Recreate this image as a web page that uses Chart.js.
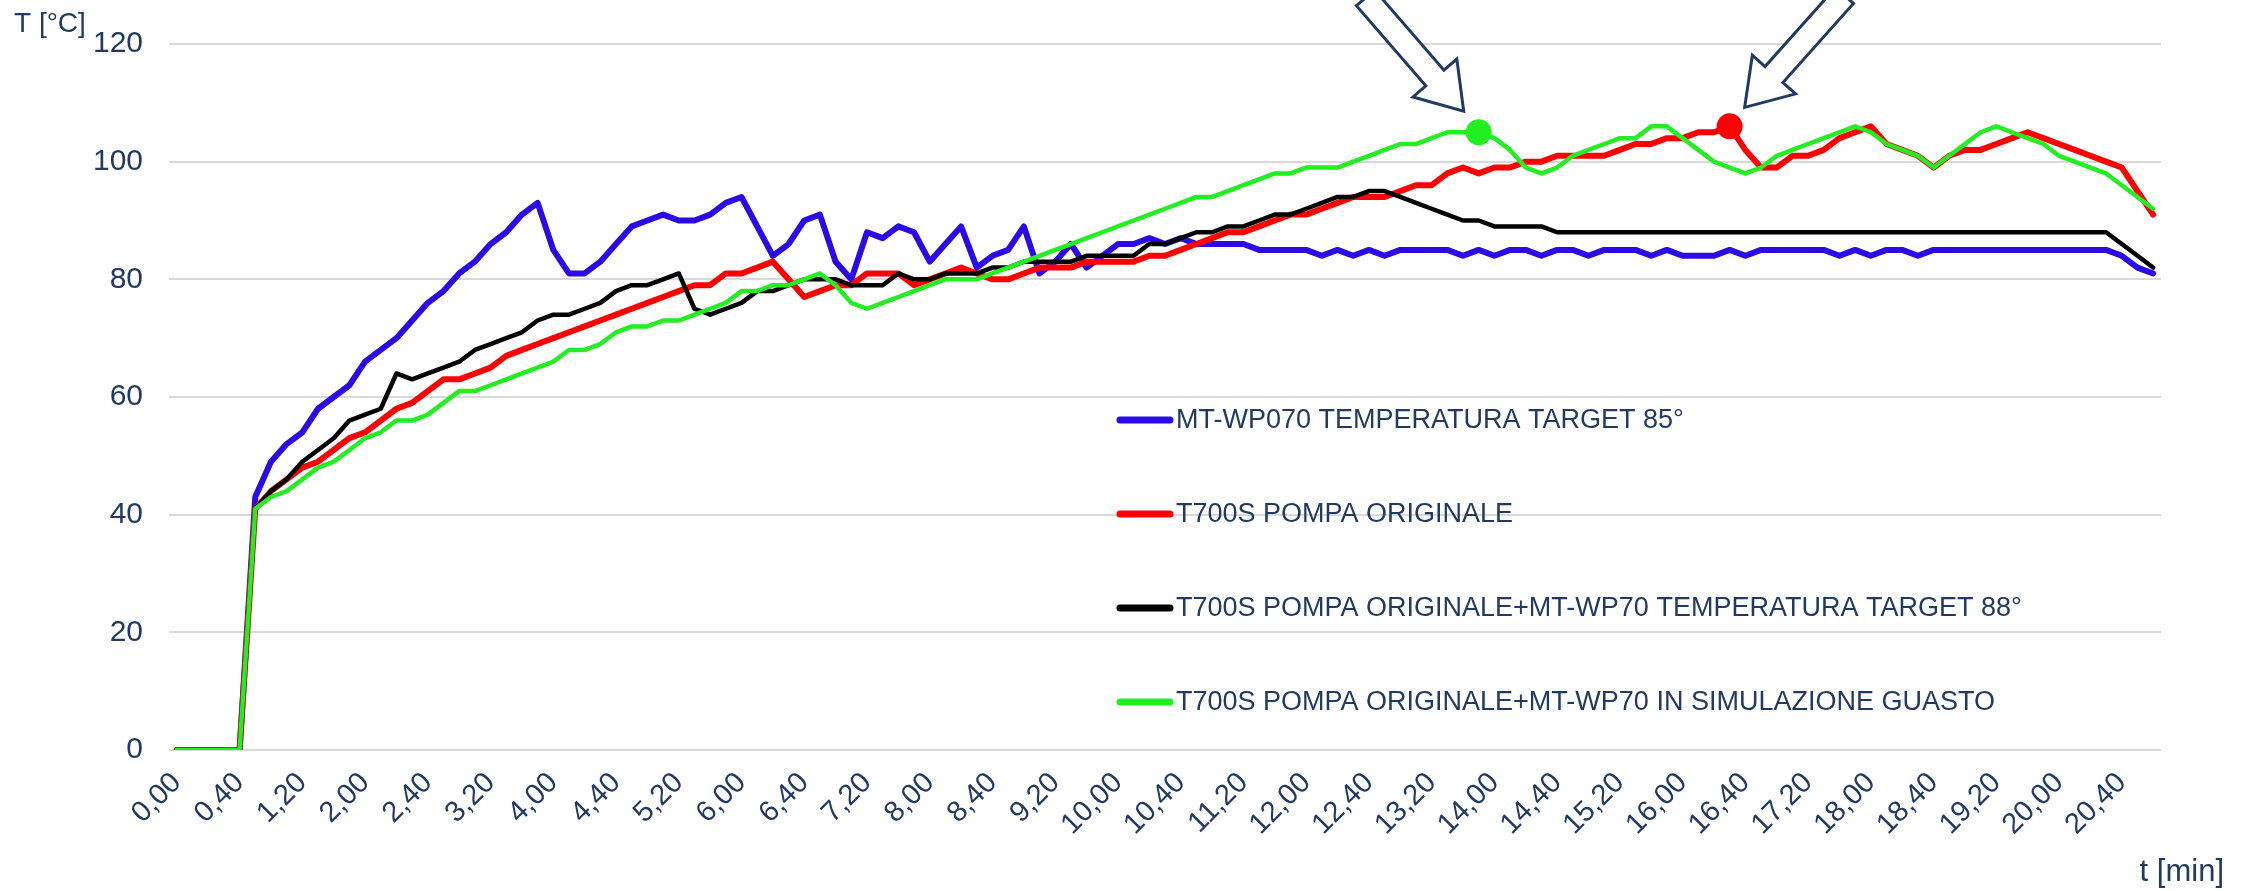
<!DOCTYPE html>
<html>
<head>
<meta charset="utf-8">
<title>Temperature comparison</title>
<script src="https://cdn.jsdelivr.net/npm/chart.js@4.4.1/dist/chart.umd.min.js"></script>
<style>
  html, body { margin: 0; padding: 0; background: #ffffff; }
  #wrap { width: 2247px; height: 891px; }
</style>
</head>
<body>
<div id="wrap"><canvas id="tempChart" width="2247" height="891"></canvas></div>
<script>
// time axis, one sample every 10 s (min,sec)
const timeLabels = [
  '0,00', '0,10', '0,20', '0,30', '0,40', '0,50',
  '1,00', '1,10', '1,20', '1,30', '1,40', '1,50',
  '2,00', '2,10', '2,20', '2,30', '2,40', '2,50',
  '3,00', '3,10', '3,20', '3,30', '3,40', '3,50',
  '4,00', '4,10', '4,20', '4,30', '4,40', '4,50',
  '5,00', '5,10', '5,20', '5,30', '5,40', '5,50',
  '6,00', '6,10', '6,20', '6,30', '6,40', '6,50',
  '7,00', '7,10', '7,20', '7,30', '7,40', '7,50',
  '8,00', '8,10', '8,20', '8,30', '8,40', '8,50',
  '9,00', '9,10', '9,20', '9,30', '9,40', '9,50',
  '10,00', '10,10', '10,20', '10,30', '10,40', '10,50',
  '11,00', '11,10', '11,20', '11,30', '11,40', '11,50',
  '12,00', '12,10', '12,20', '12,30', '12,40', '12,50',
  '13,00', '13,10', '13,20', '13,30', '13,40', '13,50',
  '14,00', '14,10', '14,20', '14,30', '14,40', '14,50',
  '15,00', '15,10', '15,20', '15,30', '15,40', '15,50',
  '16,00', '16,10', '16,20', '16,30', '16,40', '16,50',
  '17,00', '17,10', '17,20', '17,30', '17,40', '17,50',
  '18,00', '18,10', '18,20', '18,30', '18,40', '18,50',
  '19,00', '19,10', '19,20', '19,30', '19,40', '19,50',
  '20,00', '20,10', '20,20', '20,30', '20,40', '20,50',
  '21,00'
];

const seriesNames = [
  'MT-WP070 TEMPERATURA TARGET 85°',
  'T700S POMPA ORIGINALE',
  'T700S POMPA ORIGINALE+MT-WP70 TEMPERATURA TARGET 88°',
  'T700S POMPA ORIGINALE+MT-WP70 IN SIMULAZIONE GUASTO'
];

// T [°C]
const wp070Target85 = [
  0, 0, 0, 0, 0, 43, 49, 52, 54, 58,
  60, 62, 66, 68, 70, 73, 76, 78, 81, 83,
  86, 88, 91, 93, 85, 81, 81, 83, 86, 89,
  90, 91, 90, 90, 91, 93, 94, 89, 84, 86,
  90, 91, 83, 80, 88, 87, 89, 88, 83, 86,
  89, 82, 84, 85, 89, 81, 83, 86, 82, 84,
  86, 86, 87, 86, 87, 86, 86, 86, 86, 85,
  85, 85, 85, 84, 85, 84, 85, 84, 85, 85,
  85, 85, 84, 85, 84, 85, 85, 84, 85, 85,
  84, 85, 85, 85, 84, 85, 84, 84, 84, 85,
  84, 85, 85, 85, 85, 85, 84, 85, 84, 85,
  85, 84, 85, 85, 85, 85, 85, 85, 85, 85,
  85, 85, 85, 85, 84, 82, 81
];

const t700sOriginal = [
  0, 0, 0, 0, 0, 41, 44, 46, 48, 49,
  51, 53, 54, 56, 58, 59, 61, 63, 63, 64,
  65, 67, 68, 69, 70, 71, 72, 73, 74, 75,
  76, 77, 78, 79, 79, 81, 81, 82, 83, 80,
  77, 78, 79, 79, 81, 81, 81, 79, 80, 81,
  82, 81, 80, 80, 81, 82, 82, 82, 83, 83,
  83, 83, 84, 84, 85, 86, 87, 88, 88, 89,
  90, 91, 91, 92, 93, 94, 94, 94, 95, 96,
  96, 98, 99, 98, 99, 99, 100, 100, 101, 101,
  101, 101, 102, 103, 103, 104, 104, 105, 105, 106,
  102, 99, 99, 101, 101, 102, 104, 105, 106, 103,
  102, 101, 99, 101, 102, 102, 103, 104, 105, 104,
  103, 102, 101, 100, 99, 95, 91
];

const t700sWp70Target88 = [
  0, 0, 0, 0, 0, 41, 44, 46, 49, 51,
  53, 56, 57, 58, 64, 63, 64, 65, 66, 68,
  69, 70, 71, 73, 74, 74, 75, 76, 78, 79,
  79, 80, 81, 75, 74, 75, 76, 78, 78, 79,
  80, 80, 80, 79, 79, 79, 81, 80, 80, 81,
  81, 81, 82, 82, 83, 83, 83, 83, 84, 84,
  84, 84, 86, 86, 87, 88, 88, 89, 89, 90,
  91, 91, 92, 93, 94, 94, 95, 95, 94, 93,
  92, 91, 90, 90, 89, 89, 89, 89, 88, 88,
  88, 88, 88, 88, 88, 88, 88, 88, 88, 88,
  88, 88, 88, 88, 88, 88, 88, 88, 88, 88,
  88, 88, 88, 88, 88, 88, 88, 88, 88, 88,
  88, 88, 88, 88, 86, 84, 82
];

const t700sWp70Guasto = [
  0, 0, 0, 0, 0, 41, 43, 44, 46, 48,
  49, 51, 53, 54, 56, 56, 57, 59, 61, 61,
  62, 63, 64, 65, 66, 68, 68, 69, 71, 72,
  72, 73, 73, 74, 75, 76, 78, 78, 79, 79,
  80, 81, 79, 76, 75, 76, 77, 78, 79, 80,
  80, 80, 81, 82, 83, 84, 85, 86, 87, 88,
  89, 90, 91, 92, 93, 94, 94, 95, 96, 97,
  98, 98, 99, 99, 99, 100, 101, 102, 103, 103,
  104, 105, 105, 105, 104, 102, 99, 98, 99, 101,
  102, 103, 104, 104, 106, 106, 104, 102, 100, 99,
  98, 99, 101, 102, 103, 104, 105, 106, 105, 103,
  102, 101, 99, 101, 103, 105, 106, 105, 104, 103,
  101, 100, 99, 98, 96, 94, 92
];

// samples highlighted with a dot + arrow
const guastoMarkIndex = 83;
const originaleMarkIndex = 99;

const TEXT_COLOR = '#203a62';
const FONT = '"Liberation Sans", Arial, sans-serif';
const COLORS = ['#2a0ae6', '#ff0000', '#000000', '#22ee22'];
const WIDTHS = [6, 6, 4.5, 4.5];

function markRadius(idx) {
  return ctx => (ctx.dataIndex === idx ? 13 : 0);
}

function makeDataset(i, data, markIdx) {
  return {
    label: seriesNames[i],
    data: data,
    borderColor: COLORS[i],
    backgroundColor: COLORS[i],
    borderWidth: WIDTHS[i],
    borderJoinStyle: 'round',
    borderCapStyle: 'round',
    fill: false,
    tension: 0,
    pointRadius: markIdx == null ? 0 : markRadius(markIdx),
    pointHoverRadius: 0,
    pointBorderWidth: 0,
    pointBackgroundColor: COLORS[i],
    order: 3 - i
  };
}

// block arrow, outlined, tip at (tx, ty), tail towards (dx, dy)
function drawArrow(c, tx, ty, dx, dy) {
  const len = Math.hypot(dx, dy);
  const ux = dx / len, uy = dy / len;
  const nx = -uy, ny = ux;
  const L = 150, head = 44, hw = 29, sw = 12;
  const pts = [
    [0, 0], [head, hw], [head, sw], [L, sw],
    [L, -sw], [head, -sw], [head, -hw]
  ].map(p => [tx + ux * p[0] + nx * p[1], ty + uy * p[0] + ny * p[1]]);
  c.save();
  c.beginPath();
  pts.forEach((p, k) => (k ? c.lineTo(p[0], p[1]) : c.moveTo(p[0], p[1])));
  c.closePath();
  c.fillStyle = '#ffffff';
  c.fill();
  c.lineWidth = 3;
  c.lineJoin = 'miter';
  c.strokeStyle = TEXT_COLOR;
  c.stroke();
  c.restore();
}

const overlayPlugin = {
  id: 'overlay',
  afterDraw(chart) {
    const c = chart.ctx;
    const area = chart.chartArea;

    // arrows pointing at the highlighted samples
    const g = chart.getDatasetMeta(3).data[guastoMarkIndex];
    const r = chart.getDatasetMeta(1).data[originaleMarkIndex];
    drawArrow(c, g.x - 15, g.y - 21, -97, -112);
    drawArrow(c, r.x + 15, r.y - 19, 100, -112);

    // legend inside the plot
    c.save();
    c.font = '27px ' + FONT;
    c.textBaseline = 'middle';
    chart.data.datasets.forEach((ds, i) => {
      const y = area.top + 376 + i * 94;
      const x0 = area.left + 951;
      c.beginPath();
      c.lineCap = 'round';
      c.lineWidth = 7;
      c.strokeStyle = ds.borderColor;
      c.moveTo(x0, y);
      c.lineTo(x0 + 50, y);
      c.stroke();
      c.fillStyle = TEXT_COLOR;
      c.fillText(ds.label, x0 + 56, y + 1);
    });

    // axis titles
    c.textBaseline = 'alphabetic';
    c.textAlign = 'left';
    c.font = '28px ' + FONT;
    c.fillText('T [°C]', 14, 32);
    c.textAlign = 'right';
    c.font = '31px ' + FONT;
    c.fillText('t [min]', 2224, 881);
    c.restore();
  }
};

const ctx = document.getElementById('tempChart').getContext('2d');
new Chart(ctx, {
  type: 'line',
  data: {
    labels: timeLabels,
    datasets: [
      makeDataset(0, wp070Target85, null),
      makeDataset(1, t700sOriginal, originaleMarkIndex),
      makeDataset(2, t700sWp70Target88, null),
      makeDataset(3, t700sWp70Guasto, guastoMarkIndex)
    ]
  },
  options: {
    responsive: false,
    animation: false,
    layout: { padding: { top: 44, right: 86, left: 0, bottom: 0 } },
    plugins: {
      legend: { display: false },
      tooltip: { enabled: false }
    },
    scales: {
      x: {
        offset: true,
        grid: { display: false },
        border: { display: false },
        ticks: {
          autoSkip: false,
          minRotation: 45,
          maxRotation: 45,
          padding: 8,
          color: TEXT_COLOR,
          font: { family: FONT, size: 29 },
          callback: (v, i) => (i % 4 === 0 ? timeLabels[i] : null)
        },
        afterFit: s => { s.height = 141; }
      },
      y: {
        min: 0,
        max: 120,
        border: { display: false },
        grid: { color: '#d9d9d9', lineWidth: 2, drawTicks: false },
        ticks: {
          stepSize: 20,
          padding: 26,
          color: TEXT_COLOR,
          font: { family: FONT, size: 30 }
        },
        afterFit: s => { s.width = 169; }
      }
    }
  },
  plugins: [overlayPlugin]
});
</script>
</body>
</html>
